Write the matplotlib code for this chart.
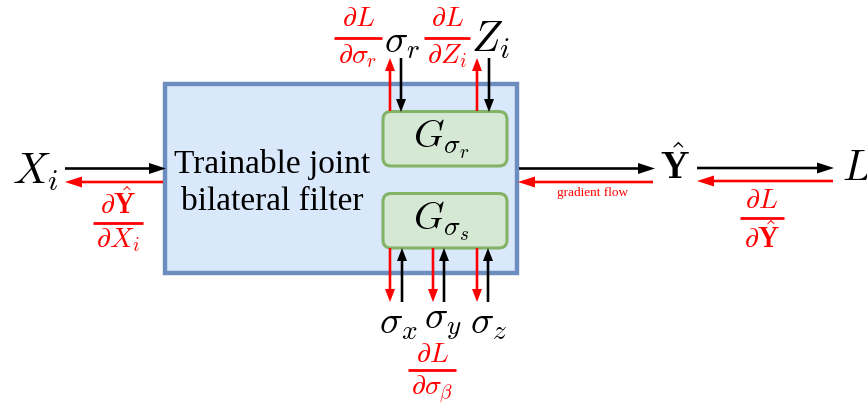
import matplotlib
matplotlib.use("Agg")
import matplotlib.pyplot as plt
from matplotlib.patches import FancyArrow, Rectangle, FancyBboxPatch

plt.rcParams['mathtext.fontset'] = 'cm'

# ---- content ----
block_title = "Trainable joint\nbilateral filter"
kernel_labels = [r"$G_{\sigma_r}$", r"$G_{\sigma_s}$"]
top_inputs = [r"$\sigma_r$", r"$Z_i$"]
top_grads = [(r"$\partial L$", r"$\partial \sigma_r$"), (r"$\partial L$", r"$\partial Z_i$")]
bottom_inputs = [r"$\sigma_x$", r"$\sigma_y$", r"$\sigma_z$"]
bottom_grad = (r"$\partial L$", r"$\partial \sigma_\beta$")
input_label = r"$X_i$"
output_label = r"$\hat{\mathbf{Y}}$"
loss_label = r"$L$"
left_grad = (r"$\partial \hat{\mathbf{Y}}$", r"$\partial X_i$")
right_grad = (r"$\partial L$", r"$\partial \hat{\mathbf{Y}}$")
flow_label = "gradient flow"

RED = "#FF0000"
BLACK = "#000000"

fig = plt.figure(figsize=(8.67, 4.08), dpi=100)
ax = fig.add_axes([0, 0, 1, 1])
ax.set_xlim(0, 867)
ax.set_ylim(408, 0)
ax.axis('off')

# main block
ax.add_patch(Rectangle((164.5, 83.5), 352, 189, facecolor="#DAE8FC",
                       edgecolor="#6C8EBF", lw=3.2, zorder=1))
ax.text(272, 183, block_title, ha='center', va='center', fontsize=24,
        family='Liberation Serif', linespacing=1.25, zorder=3)

# kernel boxes
for (y0, lab) in zip([111.5, 193.5], kernel_labels):
    ax.add_patch(FancyBboxPatch((383, y0), 124, 54.5,
                                boxstyle="round,pad=0,rounding_size=8",
                                facecolor="#D5E8D4", edgecolor="#82B366",
                                lw=2.2, zorder=2))
    ax.text(441, y0 + 28, lab, ha='center', va='center', fontsize=28, zorder=3)


def arrow(x0, y0, x1, y1, color, hl=13, hw=10, w=2.6):
    ax.add_patch(FancyArrow(x0, y0, x1 - x0, y1 - y0, width=w,
                            head_width=hw, head_length=hl,
                            length_includes_head=True, color=color,
                            lw=0, zorder=4))


def frac(xc, ynum, ybar, yden, half, num, den, fs=20):
    ax.text(xc, ynum, num, ha='center', va='center', fontsize=fs, color=RED)
    ax.plot([xc - half, xc + half], [ybar, ybar], color=RED, lw=2.0,
            solid_capstyle='butt')
    ax.text(xc, yden, den, ha='center', va='center', fontsize=fs, color=RED)


# horizontal arrows
arrow(65, 168.5, 166, 168.5, BLACK, hl=17, hw=11)
arrow(163, 182, 65, 182, RED, hl=17, hw=11)
arrow(519, 168.5, 655, 168.5, BLACK, hl=17, hw=11)
arrow(653, 182, 518, 182, RED, hl=17, hw=11)
arrow(697, 168, 834, 168, BLACK, hl=17, hw=11)
arrow(833, 181, 697, 181, RED, hl=17, hw=11)

# top vertical arrows
for xr, xb in [(390, 401), (477, 489)]:
    arrow(xr, 111, xr, 58, RED, hl=13, hw=10)
    arrow(xb, 58, xb, 112, BLACK, hl=13, hw=10)

# bottom vertical arrows
for xr, xb in [(390, 402), (433, 444), (477, 488)]:
    arrow(xr, 248, xr, 302, RED, hl=13, hw=10)
    arrow(xb, 302, xb, 248, BLACK, hl=13, hw=10)

# labels
ax.text(35, 172, input_label, ha='center', va='center', fontsize=31)
ax.text(675, 167, output_label, ha='center', va='center', fontsize=27)
ax.text(842, 168, loss_label, ha='left', va='center', fontsize=30)
ax.text(402, 42, top_inputs[0], ha='center', va='center', fontsize=28)
ax.text(490, 40, top_inputs[1], ha='center', va='center', fontsize=30)
for xc, lab in zip([398, 443, 488], bottom_inputs):
    ax.text(xc, 323, lab, ha='center', va='center', fontsize=28)

frac(358, 18, 38, 56, 24, *top_grads[0])
frac(447, 18, 38, 56, 23, *top_grads[1])
frac(432, 354, 370, 390, 24, *bottom_grad)
frac(117.5, 204, 223, 240, 25, *left_grad)
frac(761.5, 200, 218, 238, 22, *right_grad)

ax.text(593, 193, flow_label, ha='center', va='center', fontsize=9.5,
        color=RED, family='Liberation Serif')

fig.savefig("out.png", dpi=100)
